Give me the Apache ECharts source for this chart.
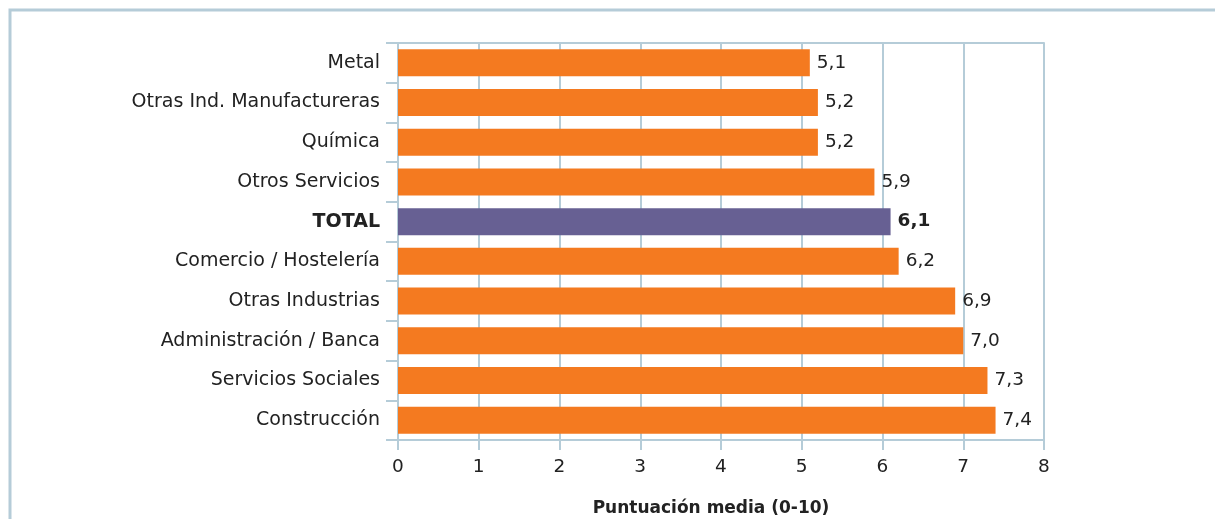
<!DOCTYPE html>
<html>
<head>
<meta charset="utf-8">
<script src="https://cdn.jsdelivr.net/npm/echarts@6/dist/echarts.min.js"></script>
<style>
html,body{margin:0;padding:0;background:#fff;}
#c{width:1215px;height:519px;}
</style>
</head>
<body>
<div id="c"></div>
<script>
var categories = ["Metal", "Otras Ind. Manufactureras", "Química", "Otros Servicios", "TOTAL", "Comercio / Hostelería", "Otras Industrias", "Administración / Banca", "Servicios Sociales", "Construcción"];
var values = [5.1, 5.2, 5.2, 5.9, 6.1, 6.2, 6.9, 7.0, 7.3, 7.4];
var highlight = "TOTAL";
var xTicks = [0, 1, 2, 3, 4, 5, 6, 7, 8];
var axisTitle = "Puntuación media (0-10)";

var FONT = "'DejaVu Sans', Verdana, sans-serif";
var LINE = "#b5ccd8";
var ORANGE = "#f47a20";
var PURPLE = "#676093";

var chart = echarts.init(document.getElementById('c'), null, {renderer: 'canvas'});
var data = categories.map(function (c, i) {
  var isH = c === highlight;
  return {
    value: values[i],
    itemStyle: {color: isH ? PURPLE : ORANGE},
    label: {fontWeight: isH ? 'bold' : 'normal'}
  };
});

chart.setOption({
  animation: false,
  textStyle: {fontFamily: FONT},
  graphic: [{
    type: 'polyline',
    shape: {points: [[10, 519], [10, 10], [1215, 10]]},
    style: {stroke: LINE, lineWidth: 3, fill: null}
  }],
  grid: {left: 398, right: 171, top: 43, bottom: 79, containLabel: false, outerBoundsMode: 'none'},
  xAxis: [{
    type: 'value',
    min: xTicks[0],
    max: xTicks[xTicks.length - 1],
    interval: 1,
    position: 'bottom',
    axisLine: {show: true, lineStyle: {color: LINE, width: 2}},
    axisTick: {show: true, length: 10, lineStyle: {color: LINE, width: 2}},
    splitLine: {show: true, lineStyle: {color: LINE, width: 2}},
    axisLabel: {color: '#222', fontSize: 18.5, margin: 18, fontFamily: FONT},
    name: axisTitle,
    nameLocation: 'middle',
    nameGap: 60,
    nameTextStyle: {color: '#222', fontSize: 17, fontWeight: 'bold', fontFamily: FONT, padding: [0, 20, 0, 0]}
  }, {
    type: 'value',
    min: xTicks[0],
    max: xTicks[xTicks.length - 1],
    position: 'top',
    axisLine: {show: true, lineStyle: {color: LINE, width: 2}},
    axisTick: {show: false},
    axisLabel: {show: false},
    splitLine: {show: false}
  }],
  yAxis: {
    type: 'category',
    data: categories,
    inverse: true,
    axisLine: {show: true, lineStyle: {color: LINE, width: 2}},
    axisTick: {show: true, length: 12, lineStyle: {color: LINE, width: 2}},
    axisLabel: {
      color: '#222', fontSize: 19, margin: 18, fontFamily: FONT,
      formatter: function (v) { return v === highlight ? '{b|' + v + '}' : v; },
      rich: {b: {fontWeight: 'bold', fontSize: 19, color: '#222', fontFamily: FONT}}
    }
  },
  series: [{
    type: 'bar',
    xAxisIndex: 0,
    data: data,
    barCategoryGap: '32%',
    label: {
      show: true,
      position: 'right',
      distance: 7,
      color: '#222',
      fontSize: 18.5,
      fontFamily: FONT,
      formatter: function (p) { return p.value.toFixed(1).replace('.', ','); }
    }
  }]
});
</script>
</body>
</html>
